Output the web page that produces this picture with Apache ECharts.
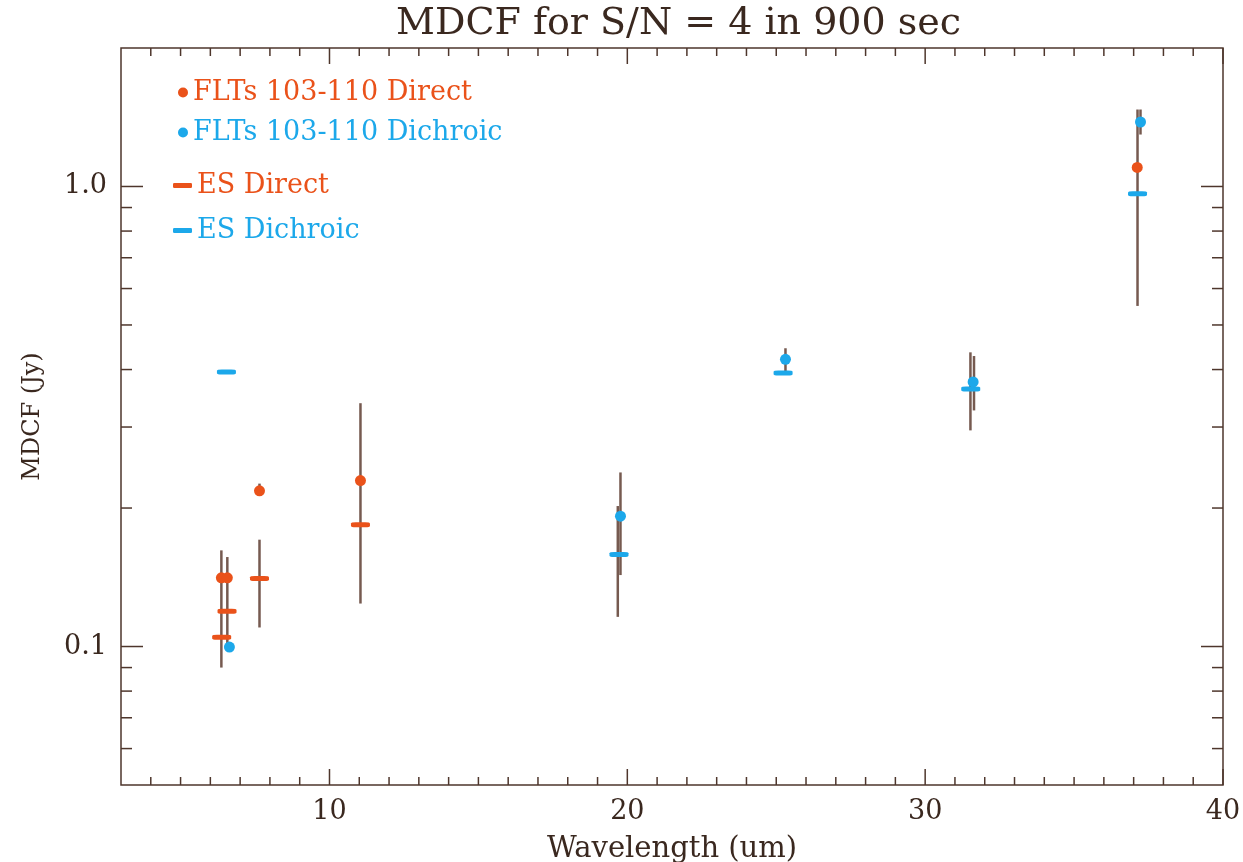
<!DOCTYPE html>
<html>
<head>
<meta charset="utf-8">
<script src="https://cdn.jsdelivr.net/npm/echarts@6/dist/echarts.min.js"></script>
<style>
  html, body { margin: 0; padding: 0; background: #ffffff; }
  #chart { width: 1243px; height: 862px; }
</style>
</head>
<body>
<div id="chart"></div>
<script>
// Wavelength (um) and MDCF (Jy) values for each measurement set
const fltDirectX    = [6.37, 6.57, 7.65, 11.04, 37.12];
const fltDirectY    = [0.141, 0.141, 0.218, 0.2295, 1.10];
const fltDichroicX  = [6.64, 19.77, 25.31, 31.61, 37.23];
const fltDichroicY  = [0.0997, 0.192, 0.421, 0.376, 1.381];
const esDirectX     = [6.38, 6.56, 7.65, 11.04];
const esDirectY     = [0.1047, 0.1193, 0.1405, 0.184];
const esDichroicX   = [6.54, 19.72, 25.23, 31.53, 37.13];
const esDichroicY   = [0.395, 0.1585, 0.393, 0.363, 0.964];

// Error bars: wavelength, lower and upper MDCF
const errX    = [6.37, 6.57, 7.65, 7.65, 11.04, 19.77, 19.68, 25.31, 31.52, 31.64, 37.13, 37.23];
const errLow  = [0.090, 0.100, 0.110, 0.2135, 0.124, 0.143, 0.116, 0.394, 0.295, 0.326, 0.55, 1.297];
const errHigh = [0.1618, 0.1565, 0.1707, 0.226, 0.338, 0.239, 0.202, 0.445, 0.436, 0.428, 1.47, 1.47];

// Axis ranges and ticks
const xMin = 3, xMax = 40;
const yMin = 0.05, yMax = 2.0;
const xMajorTicks = [10, 20, 30, 40];
const xMajorLabels = ['10', '20', '30', '40'];
const xMinorTicks = [4,5,6,7,8,9,11,12,13,14,15,16,17,18,19,21,22,23,24,25,26,27,28,29,31,32,33,34,35,36,37,38,39];
const yMajorTicks = [0.1, 1.0];
const yMajorLabels = ['0.1', '1.0'];
const yMinorTicks = [0.06, 0.07, 0.08, 0.09, 0.2, 0.3, 0.4, 0.5, 0.6, 0.7, 0.8, 0.9];

const seriesNames = ['FLTs 103-110 Direct', 'FLTs 103-110 Dichroic', 'ES Direct', 'ES Dichroic'];

const ORANGE = '#ea521a';
const BLUE = '#1ca8ea';
const FRAME = '#4e362c';
const TEXT = '#3a281f';
const BAR = '#765a50';
const FONT = '"DejaVu Serif", "Liberation Serif", serif';

const zip = (xs, ys) => xs.map((x, i) => [x, ys[i]]);

// Tick data: [x, y, kind] where kind 0 = x major, 1 = x minor, 2 = y major, 3 = y minor
const tickData = []
  .concat(xMajorTicks.map(v => [v, yMin, 0]))
  .concat(xMinorTicks.map(v => [v, yMin, 1]))
  .concat(yMajorTicks.map(v => [xMin, v, 2]))
  .concat(yMinorTicks.map(v => [xMin, v, 3]));

const labelData = []
  .concat(xMajorTicks.map((v, i) => ({ value: [v, yMin, 0], label: xMajorLabels[i] })))
  .concat(yMajorTicks.map((v, i) => ({ value: [xMin, v, 1], label: yMajorLabels[i] })));

function renderTick(params, api) {
  const r = params.coordSys;
  const kind = api.value(2);
  const p = api.coord([api.value(0), api.value(1)]);
  const style = { stroke: FRAME, lineWidth: 1.5 };
  if (kind === 0 || kind === 1) {
    const len = kind === 0 ? 16 : 8;
    return { type: 'group', children: [
      { type: 'line', shape: { x1: p[0], y1: r.y + r.height, x2: p[0], y2: r.y + r.height - len }, style },
      { type: 'line', shape: { x1: p[0], y1: r.y, x2: p[0], y2: r.y + len }, style }
    ]};
  }
  const len = kind === 2 ? 22 : 11;
  return { type: 'group', children: [
    { type: 'line', shape: { x1: r.x, y1: p[1], x2: r.x + len, y2: p[1] }, style },
    { type: 'line', shape: { x1: r.x + r.width, y1: p[1], x2: r.x + r.width - len, y2: p[1] }, style }
  ]};
}

function renderLabel(params, api) {
  const r = params.coordSys;
  const kind = api.value(2);
  const p = api.coord([api.value(0), api.value(1)]);
  const text = labelData[params.dataIndex].label;
  if (kind === 0) {
    return { type: 'text', x: p[0], y: r.y + r.height + 13,
      style: { text, font: '27px ' + FONT, fill: TEXT, align: 'center', verticalAlign: 'top' } };
  }
  return { type: 'text', x: r.x - 14, y: p[1],
    style: { text, font: '27px ' + FONT, fill: TEXT, align: 'right', verticalAlign: 'middle' } };
}

function renderErr(params, api) {
  const a = api.coord([api.value(0), api.value(1)]);
  const b = api.coord([api.value(0), api.value(2)]);
  return { type: 'line', shape: { x1: a[0], y1: a[1], x2: b[0], y2: b[1] },
    style: { stroke: BAR, lineWidth: 2.5 } };
}

const chart = echarts.init(document.getElementById('chart'), null, { renderer: 'canvas' });
chart.setOption({
  animation: false,
  backgroundColor: '#ffffff',
  title: {
    text: 'MDCF for S/N = 4 in 900 sec',
    left: 391, top: 0,
    textStyle: { fontFamily: FONT, fontSize: 38, fontWeight: 'normal', color: TEXT }
  },
  legend: [
    {
      orient: 'vertical', left: 173, top: 74, itemGap: 13,
      itemWidth: 10, itemHeight: 10, icon: 'circle',
      textStyle: { fontFamily: FONT, fontSize: 27 },
      data: [
        { name: seriesNames[0], textStyle: { color: ORANGE } },
        { name: seriesNames[1], textStyle: { color: BLUE } }
      ],
      selectedMode: false
    },
    {
      orient: 'vertical', left: 168, top: 167, itemGap: 18,
      itemWidth: 19, itemHeight: 5, icon: 'roundRect',
      textStyle: { fontFamily: FONT, fontSize: 27 },
      data: [
        { name: seriesNames[2], textStyle: { color: ORANGE } },
        { name: seriesNames[3], textStyle: { color: BLUE } }
      ],
      selectedMode: false
    }
  ],
  grid: { left: 121, right: 20, top: 48, bottom: 77, show: true, borderColor: FRAME, borderWidth: 1.5,
    containLabel: false, outerBoundsMode: 'none' },
  xAxis: {
    type: 'value', min: xMin, max: xMax,
    name: 'Wavelength (um)', nameLocation: 'middle', nameGap: 50,
    nameTextStyle: { fontFamily: FONT, fontSize: 29, color: TEXT },
    axisLine: { show: false }, axisTick: { show: false }, axisLabel: { show: false }, splitLine: { show: false }
  },
  yAxis: {
    type: 'log', logBase: 10, min: yMin, max: yMax,
    name: 'MDCF (Jy)', nameLocation: 'middle', nameGap: 76, nameRotate: 90,
    nameTextStyle: { fontFamily: FONT, fontSize: 24, color: TEXT },
    axisLine: { show: false }, axisTick: { show: false }, axisLabel: { show: false }, splitLine: { show: false }
  },
  series: [
    { type: 'custom', name: 'ticks', renderItem: renderTick, data: tickData, silent: true, clip: false, z: 1 },
    { type: 'custom', name: 'labels', renderItem: renderLabel, data: labelData, silent: true, clip: false, z: 1 },
    { type: 'custom', name: 'errors', renderItem: renderErr, data: errX.map((x, i) => [x, errLow[i], errHigh[i]]), silent: true, z: 2 },
    { type: 'scatter', name: seriesNames[2], data: zip(esDirectX, esDirectY), symbol: 'roundRect', symbolSize: [19, 5], itemStyle: { color: ORANGE, opacity: 1 }, z: 3 },
    { type: 'scatter', name: seriesNames[3], data: zip(esDichroicX, esDichroicY), symbol: 'roundRect', symbolSize: [19, 5], itemStyle: { color: BLUE, opacity: 1 }, z: 3 },
    { type: 'scatter', name: seriesNames[0], data: zip(fltDirectX, fltDirectY), symbol: 'circle', symbolSize: 11, itemStyle: { color: ORANGE, opacity: 1 }, z: 4 },
    { type: 'scatter', name: seriesNames[1], data: zip(fltDichroicX, fltDichroicY), symbol: 'circle', symbolSize: 11, itemStyle: { color: BLUE, opacity: 1 }, z: 4 }
  ]
});
</script>
</body>
</html>
